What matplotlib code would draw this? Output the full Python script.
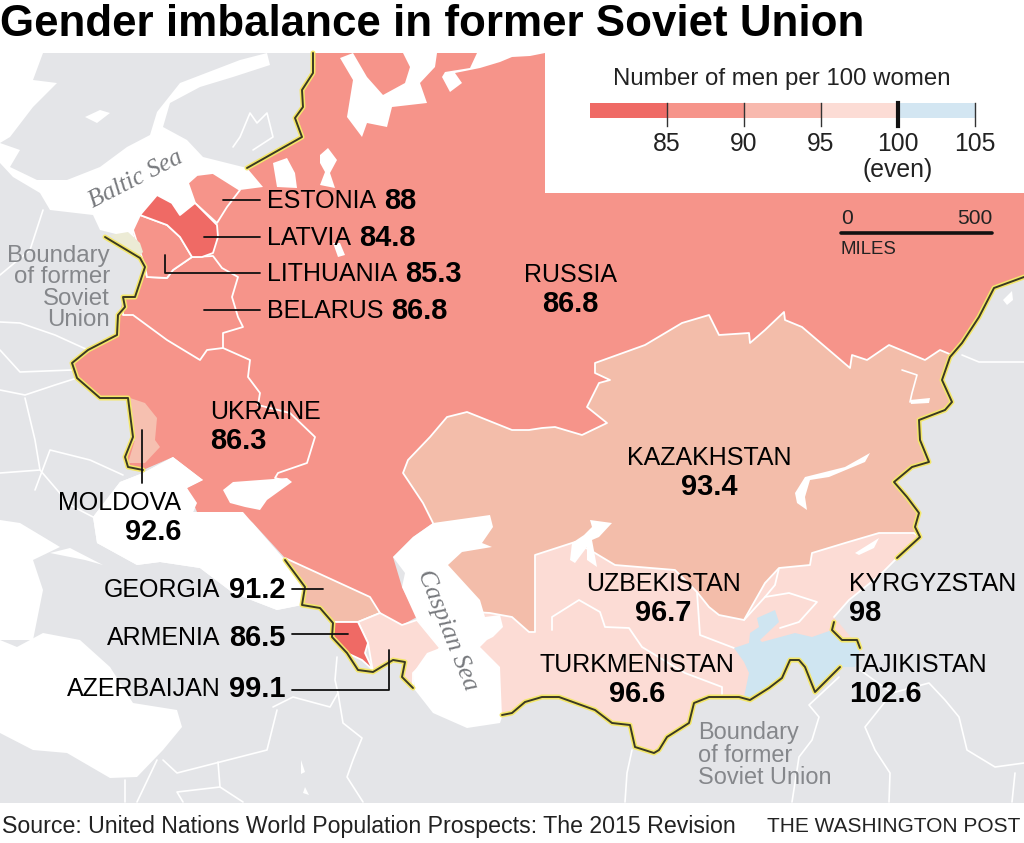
import matplotlib
matplotlib.use('Agg')
import matplotlib.pyplot as plt
from matplotlib.patches import Polygon

plt.rcParams['font.family'] = ['Liberation Sans', 'DejaVu Sans']

# outlines, in image pixels
russia_block = [(313,53),(545,53),(1024,53),(1024,277),(1022,277),(994,288),(979,317),(962,343),(950,357),(900,400),(800,500),
  (600,600),(433,523),(413,537),(393,557),(402,587),(417,617),(402,625),(380,613),(370,597),(333,580),(285,558),(253,523),(240,512),(197,512),
  (187,488),(203,480),(173,457),(143,470),(128,467),(123,458),(135,440),(132,407),(130,398),(100,398),(77,378),(72,363),(88,350),
  (117,335),(123,297),(135,297),(145,267),(140,258),(133,232),(140,215),(157,195),(172,203),(180,215),(195,203),(188,183),(197,175),
  (213,173),(240,190),(263,187),(247,168),(302,137),(295,118),(303,107),(302,90),(313,73)]
kazakhstan = [(595,363),(645,345),(682,323),(709,315),(719,335),(749,333),(750,343),(765,330),(784,312),(785,320),(802,327),(850,368),
  (852,355),(867,360),(889,345),(925,360),(940,350),(952,355),(942,380),(952,402),(945,410),(919,420),(920,440),(929,462),(912,467),
  (894,482),(907,497),(919,513),(915,527),(920,537),(914,533),(879,533),(845,543),(812,553),(810,565),(779,568),(765,583),(744,620),
  (719,615),(709,607),(697,592),(675,570),(615,565),(595,553),(575,542),(535,555),(535,632),(529,632),(512,617),(490,613),(445,610),
  (440,560),(433,523),(423,503),(403,473),(408,460),(430,437),(447,417),(467,412),(512,430),(529,430),(542,428),(555,427),(582,435),
  (607,423),(587,407),(599,383),(610,380),(595,373)]
central_asia = [(445,610),(490,613),(512,617),(529,632),(535,632),(535,555),(575,542),(700,500),(914,533),(920,537),(897,558),(880,575),(849,600),
  (834,617),(860,648),(840,667),(815,692),(805,667),(799,660),(790,660),(782,678),(769,688),(750,700),(739,697),(709,697),(694,703),
  (689,723),(667,737),(659,750),(654,753),(635,747),(630,725),(612,723),(595,710),(559,697),(542,697),(525,702),(512,713),(500,715),(450,700)]
tajikistan = [(734,648),(749,643),(750,633),(759,627),(757,618),(775,610),(779,622),(760,640),(762,642),(795,633),(812,637),(832,630),
  (842,640),(857,640),(860,648),(855,667),(840,667),(815,692),(805,667),(799,660),(790,660),(782,678),(769,688),(750,700),(744,697),
  (749,673),(744,662)]
latvia = [(140,215),(157,195),(172,203),(180,215),(195,203),(217,225),(218,237),(213,253),(202,257),(192,257),(180,237),(167,225)]
estonia = [(188,183),(197,175),(213,173),(240,190),(227,207),(217,223),(195,203)]
lithuania = [(133,230),(140,215),(167,225),(180,237),(192,257),(173,270),(167,278),(147,277),(145,267)]
kaliningrad = [(110,235),(128,232),(140,243),(143,252),(138,257)]
belarus = [(123,315),(133,315),(167,340),(200,360),(207,350),(223,348),(223,333),(243,327),(238,317),(232,297),(238,277),(222,268),(213,256),
  (192,257),(173,270),(167,278),(147,277),(145,267),(135,297),(123,297)]
moldova = [(130,398),(145,403),(157,418),(155,440),(160,447),(145,463),(128,463),(135,440),(132,410)]
georgia = [(285,558),(333,580),(370,597),(380,613),(358,622),(333,622),(320,608),(302,605),(305,587)]
armenia = [(333,622),(358,622),(368,643),(365,653),(373,670),(362,660),(347,653),(332,637)]
azerbaijan = [(358,622),(380,613),(402,625),(417,620),(440,648),(413,673),(413,688),(402,677),(405,662),(393,660),(373,672),(368,643)]

white_sea = [(340,58),(353,80),(347,117),(362,137),(367,123),(387,127),(392,107),(427,103),(420,83),(435,67),(437,53),(403,53),(410,67),(405,83),(383,95),(367,77),(353,53)]
pechora_sea = [(442,77),(450,92),(462,83),(455,73),(480,68),(500,62),(512,57),(530,56),(545,53),(477,53),(470,68),(445,72)]
ladoga = [(273,163),(287,158),(295,173),(297,188),(277,187)]
onega = [(320,155),(328,148),(337,160),(330,173),(335,188),(320,185),(325,172),(320,163)]
small_lake = [(333,243),(340,243),(345,255),(338,257)]
baltic = [(0,143),(20,150),(10,167),(37,180),(67,180),(100,167),(127,147),(150,135),(157,112),(180,83),(240,60),(267,53),(270,65),(233,77),
  (200,87),(170,103),(163,127),(187,140),(203,157),(247,168),(267,188),(217,223),(140,240),(100,230),(93,215),(50,210),(40,193),(13,177),(0,163)]
norwegian_sea = [(0,53),(43,53),(33,80),(57,83),(33,107),(10,137),(0,143)]
swedish_lake = [(85,117),(100,110),(110,113),(97,123)]
black_sea = [(187,488),(197,503),(193,512),(243,512),(283,558),(305,587),(302,605),(277,610),(233,593),(200,568),(160,562),(137,565),
  (97,543),(93,517),(120,482),(143,473),(173,457),(203,480)]
azov = [(223,490),(233,482),(287,478),(292,482),(267,500),(260,510),(245,507),(230,503)]
aegean = [(0,520),(20,523),(60,547),(33,560),(43,590),(33,640),(0,640)]
marmara = [(50,553),(70,548),(103,565),(85,560),(70,557)]
mediterranean = [(0,733),(33,750),(67,753),(110,778),(137,777),(163,750),(182,727),(177,710),(133,703),(110,667),(80,640),(43,633),(17,647),(0,640)]
turkey_lakes = [[(301,760),(305,772),(301,774)], [(305,787),(309,795),(303,793)]]
caspian = [(393,557),(413,537),(433,523),(490,515),(493,527),(482,543),(492,547),(462,552),(448,565),(480,600),(485,617),(500,615),(503,627),
  (493,637),(487,640),(480,647),(500,667),(502,717),(500,723),(467,728),(433,713),(415,690),(413,673),(427,653),(440,648),(417,620),(402,587),(405,573)]
balkhash = [(795,493),(805,477),(845,467),(870,453),(865,462),(829,477),(810,480),(805,497),(807,510),(797,503)]
aral = [(584,535),(592,527),(590,520),(612,523),(599,537),(592,540),(597,567),(587,560),(587,547),(575,563),(570,560),(572,543)]
issyk_kul = [(855,553),(879,538),(874,548),(859,555)]
zaysan_river = [(902,370),(917,375),(912,393),(910,402)]
zaysan = [(910,400),(930,398),(929,403),(911,404)]
east_spot = [(1003,300),(1012,291),(1013,300),(1007,305)]

soviet_north = [(313,53),(313,73),(302,90),(303,107),(295,118),(302,137),(247,168)]
soviet_west = [(105,237),(140,258),(145,267),(135,297),(123,297),(125,307),(118,315),(117,335),(88,350),(72,363),(77,378),(100,398),(128,398),
  (133,437),(125,457),(128,467),(143,470)]
soviet_caucasus = [(285,560),(305,587),(302,605),(320,608),(333,623),(332,637),(347,653),(358,670),(373,672),(393,660),(405,662),(402,677),(413,688)]
soviet_south = [(502,715),(512,713),(525,702),(542,697),(559,697),(595,710),(612,723),(630,725),(635,747),(654,753),(659,750),(667,737),(689,723),
  (694,703),(709,697),(739,697),(750,700),(769,688),(782,678),(790,660),(799,660),(805,667),(815,692),(840,667)]
soviet_pamir = [(834,622),(832,630),(842,640),(857,640),(860,648)]
soviet_east = [(1024,277),(994,288),(979,317),(962,343),(950,357),(942,380),(952,402),(945,410),(919,420),(920,440),(929,462),(912,467),(894,482),
  (907,497),(919,513),(915,527),(920,537),(897,558)]

inner_borders = [
  [(223,348),(250,360),(248,377),(260,393),(258,405),(290,413),(315,437),(307,463),(278,473),(275,478),(290,482)],
  [(552,630),(552,617),(579,600),(600,612),(605,627),(629,628),(642,647),(685,673),(722,687),(722,697)],
  [(765,597),(789,593),(817,602),(799,622),(780,628)],
  [(779,568),(775,585),(765,597),(744,620)],
  [(897,558),(880,575),(849,600),(834,617)],
  [(734,648),(700,635),(697,592)],
]
gray_borders = [
  [(43,210),(30,250),(0,275)], [(0,322),(20,323),(55,335),(88,350)], [(0,350),(20,372),(72,370)], [(0,390),(25,395),(55,385),(77,378)],
  [(25,398),(35,440),(40,470)], [(0,473),(40,470),(70,505),(93,517)], [(123,475),(90,460),(50,450),(35,490)],
  [(337,657),(335,680),(338,693),(343,723),(362,738),(353,760),(347,777),(363,802)],
  [(273,707),(293,697),(330,707),(338,693)], [(277,710),(267,750),(177,773),(163,760)], [(218,762),(220,787),(177,792),(183,802)],
  [(220,787),(243,802)], [(125,780),(125,802)], [(137,802),(157,760)],
  [(632,750),(627,773),(625,802)], [(839,677),(809,705),(819,717),(812,740),(799,757),(792,802)],
  [(860,670),(892,693),(929,683),(945,700),(959,717),(967,750),(995,767),(1024,763)],
  [(892,693),(865,727),(875,750),(890,773),(889,802)], [(1015,773),(1012,802)], [(962,355),(979,362),(1024,362)],
  [(233,147),(240,137),(250,113),(257,123),(267,113),(273,137),(253,150)],
]

countries = ['ESTONIA', 'LATVIA', 'LITHUANIA', 'BELARUS']
country_values = ['88', '84.8', '85.3', '86.8']
left_countries = ['GEORGIA', 'ARMENIA', 'AZERBAIJAN']
left_values = ['91.2', '86.5', '99.1']
legend_edges = [80, 85, 90, 95, 100, 105]
legend_colors = ['#ef6a65', '#f6948a', '#f8b9ae', '#fcdcd5', '#d3e6f2']

SALMON = '#f6948a'
KAZ = '#f3bdaa'
PINK = '#fcdcd5'
BLUE = '#cfe5f1'
RED = '#ef6a65'
GRAY = '#e4e5e8'

fig = plt.figure(figsize=(10.24, 8.43), dpi=100)
ax = fig.add_axes([0, 0, 1, 1])
ax.set_xlim(0, 1024)
ax.set_ylim(843, 0)
ax.axis('off')

ax.fill([0, 1024, 1024, 0], [53, 53, 803, 803], color=GRAY, lw=0, zorder=1)

def poly(pts, color, z=3, edge='white', lw=1.3):
    ax.add_patch(Polygon(pts, closed=True, facecolor=color, edgecolor=edge, linewidth=lw, joinstyle='round', zorder=z))

def line(pts, color='white', lw=1.2, z=2):
    ax.plot([p[0] for p in pts], [p[1] for p in pts], color=color, lw=lw, zorder=z, solid_joinstyle='round', solid_capstyle='round')

for seg in gray_borders:
    line(seg)
for sea in [baltic, norwegian_sea, black_sea, aegean, marmara, mediterranean, swedish_lake] + turkey_lakes:
    poly(sea, 'white', z=2, edge='none', lw=0)

poly(russia_block, SALMON, z=3, edge='none', lw=0)
poly(belarus, SALMON, z=3.1)
poly(estonia, SALMON, z=3.2)
poly(lithuania, SALMON, z=3.2)
poly(latvia, RED, z=3.3)
poly(kaliningrad, '#ecebd5', z=3.2, edge='none', lw=0)
poly(moldova, '#f6c0b0', z=3.3, edge='none', lw=0)
poly(central_asia, PINK, z=3.4, edge='none', lw=0)
poly(kazakhstan, KAZ, z=3.5)
poly(tajikistan, BLUE, z=3.6, edge='none', lw=0)
poly(georgia, KAZ, z=3.4)
poly(azerbaijan, PINK, z=3.4)
poly(armenia, RED, z=3.5)
for seg in inner_borders:
    line(seg, z=3.45, lw=1.3)

for lake in [white_sea, pechora_sea, ladoga, onega, small_lake, black_sea, azov, caspian, balkhash, aral, issyk_kul, zaysan, east_spot]:
    poly(lake, 'white', z=4, edge='none', lw=0)
line(zaysan_river, lw=1.2, z=4)

for seg in [soviet_north, soviet_west, soviet_caucasus, soviet_south, soviet_pamir, soviet_east]:
    line(seg, color='#f4e76a', lw=3.6, z=5)
    line(seg, color='#3b3a22', lw=1.4, z=5.1)

# white panel, footer
ax.fill([545, 1024, 1024, 545], [50, 50, 193, 193], color='white', lw=0, zorder=6)
ax.fill([0, 1024, 1024, 0], [803, 803, 843, 843], color='white', lw=0, zorder=6)

def fs(px):
    return px * 0.72

NAME = 25
VALUE = 29
renderer = fig.canvas.get_renderer()

def pair_left(x, y, name, value):
    t = ax.text(x, y, name, fontsize=fs(NAME), va='center', ha='left', zorder=8)
    box = t.get_window_extent(renderer)
    ax.text(box.x1 + 8, y, value, fontsize=fs(VALUE), fontweight='bold', va='center', ha='left', zorder=8)

def pair_right(x, y, name, value):
    t = ax.text(x, y, value, fontsize=fs(VALUE), fontweight='bold', va='center', ha='right', zorder=8)
    box = t.get_window_extent(renderer)
    ax.text(box.x0 - 8, y, name, fontsize=fs(NAME), va='center', ha='right', zorder=8)

for name, val, y in zip(countries, country_values, [201, 238, 274, 311]):
    pair_left(267, y, name, val)
for name, val, y in zip(left_countries, left_values, [590, 638, 689]):
    pair_right(285, y, name, val)

def stacked(x, y, name, value, ha='center'):
    ax.text(x, y + 1, name, fontsize=fs(NAME), va='center', ha=ha, zorder=8)
    ax.text(x, y + 30, value, fontsize=fs(VALUE), fontweight='bold', va='center', ha=ha, zorder=8)

stacked(570, 274, 'RUSSIA', '86.8')
stacked(210, 411, 'UKRAINE', '86.3', ha='left')
stacked(181, 502, 'MOLDOVA', '92.6', ha='right')
stacked(709, 457, 'KAZAKHSTAN', '93.4')
stacked(663, 583, 'UZBEKISTAN', '96.7')
stacked(849, 583, 'KYRGYZSTAN', '98', ha='left')
stacked(637, 664, 'TURKMENISTAN', '96.6')
stacked(849, 664, 'TAJIKISTAN', '102.6', ha='left')

leaders = [
    [(223,200),(260,200)], [(204,237),(260,237)], [(165,255),(165,273),(260,273)], [(204,310),(260,310)],
    [(142,430),(142,483)], [(292,589),(323,589)], [(292,634),(348,634)], [(292,690),(389,690),(389,650)],
]
for seg in leaders:
    line(seg, color='#111111', lw=1.3, z=7)

gray_txt = '#85878b'
ax.text(110, 288, 'Boundary\nof former\nSoviet\nUnion', fontsize=fs(24), color=gray_txt, ha='right', va='center', linespacing=0.95, zorder=8)
ax.text(698, 755, 'Boundary\nof former\nSoviet Union', fontsize=fs(23.5), color=gray_txt, ha='left', va='center', linespacing=0.95, zorder=8)
ax.text(136, 179, 'Baltic Sea', fontsize=fs(25), family='Liberation Serif', style='italic', color='#77797d', rotation=27, ha='center', va='center', zorder=8)
ax.text(447, 630, 'Caspian Sea', fontsize=fs(25.5), family='Liberation Serif', style='italic', color='#77797d', rotation=-68, ha='center', va='center', zorder=8)

ax.text(0, 24, 'Gender imbalance in former Soviet Union', fontsize=fs(43.9), fontweight='bold', ha='left', va='center', zorder=8)
ax.text(2, 826, 'Source: United Nations World Population Prospects: The 2015 Revision', fontsize=fs(23.1), color='#222222', ha='left', va='center', zorder=8)
ax.text(1020, 826, 'THE WASHINGTON POST', fontsize=fs(20.9), color='#222222', ha='right', va='center', zorder=8)

# legend
ax.text(782, 79, 'Number of men per 100 women', fontsize=fs(24), color='#222222', ha='center', va='center', zorder=8)
lg = fig.add_axes([590 / 1024, 1 - 118 / 843, 385 / 1024, 15 / 843], zorder=10)
lg.set_xlim(legend_edges[0], legend_edges[-1])
lg.set_ylim(0, 1)
lg.axis('off')
for i, c in enumerate(legend_colors):
    lg.barh(0.5, legend_edges[i + 1] - legend_edges[i], left=legend_edges[i], height=1, color=c, lw=0)
for v in legend_edges[1:]:
    w = 3 if v == 100 else 1
    lg.plot([v, v], [-0.5, 1], color='#111111' if v == 100 else '#333333', lw=w, clip_on=False)
    lg.text(v, -1.75, str(v), fontsize=fs(24.8), color='#222222', ha='center', va='center', clip_on=False)
lg.text(100, -3.5, '(even)', fontsize=fs(24.8), color='#222222', ha='center', va='center', clip_on=False)

# scale bar
line([(841,233),(992,233)], color='#111111', lw=2.6, z=8)
ax.text(841, 218, '0', fontsize=fs(21), color='#222222', ha='left', va='center', zorder=8)
ax.text(992, 218, '500', fontsize=fs(21), color='#222222', ha='right', va='center', zorder=8)
ax.text(841, 249, 'MILES', fontsize=fs(18.6), color='#222222', ha='left', va='center', zorder=8)

fig.savefig('out.png', dpi=100)
